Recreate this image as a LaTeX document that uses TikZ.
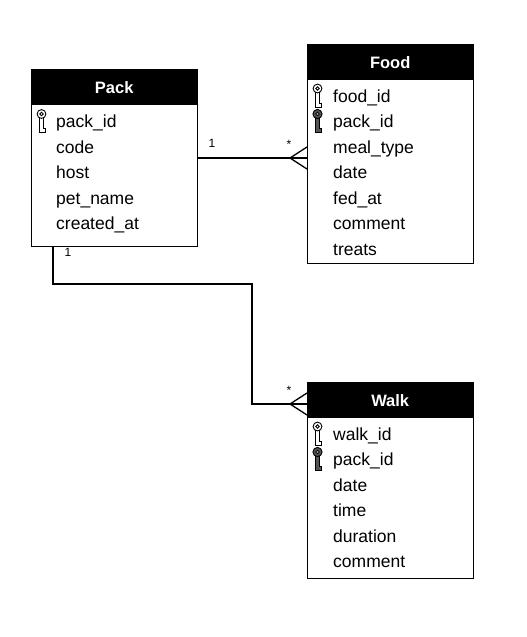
\documentclass[tikz,border=0pt]{standalone}
\usepackage{fontspec}
\setmainfont{Liberation Sans}
\usetikzlibrary{calc}
\newcommand\rowfnt{\fontsize{17.5}{20}\selectfont}
\newcommand\hdrfnt{\fontsize{16.5}{20}\selectfont\bfseries}
\newcommand\lblfnt{\fontsize{12}{14}\selectfont}
\definecolor{fkgray}{HTML}{555555}
\definecolor{fkhole}{HTML}{AAAAAA}
\tikzset{
  tbl/.style={draw=black, line width=1.3pt, fill=white, minimum width=166pt, anchor=north west, inner sep=0pt},
  hdr/.style={fill=black, text=white, font=\hdrfnt, minimum width=166pt, minimum height=36pt, anchor=north west, inner sep=0pt},
  row/.style={anchor=west, font=\rowfnt, inner sep=0pt, text height=12.5pt, text depth=3.5pt},
  lbl/.style={font=\lblfnt, inner sep=0pt},
  conn/.style={draw=black, line width=1.3pt},
  pkey/.pic={
    \draw[line width=0.9pt, fill=white] (-1.8,3.9) -- (-1.8,18.5) -- (4.3,18.5) -- (4.3,14.8) -- (1.8,14.8) -- (1.8,3.9);
    \draw[line width=0.9pt, fill=white] (0,0) circle (4.4);
    \draw[line width=0.9pt] (0,0) circle (1.8);
  },
  fkey/.pic={
    \draw[line width=0.9pt, fill=fkgray] (-2,3.9) -- (-2,18.5) -- (4.3,18.5) -- (4.3,14.8) -- (2,14.8) -- (2,3.9);
    \draw[line width=0.9pt, fill=fkgray] (0,0) circle (4.6);
    \draw[line width=0.6pt, fill=fkhole] (0,0) circle (1.9);
  }
}
\begin{document}
\begin{tikzpicture}[x=1pt,y=-1pt]
\useasboundingbox (0,0) rectangle (527,637);

% Pack
\node[tbl, minimum height=177pt] (pack) at (31,69) {};
\node[hdr] (packh) at (31,69) {Pack};
\pic at (41.5,114) {pkey};
\node[row] (pack1) at (56,123) {pack\_id};
\node[row] (pack2) at (56,148.5) {code};
\node[row] (pack3) at (56,174) {host};
\node[row] (pack4) at (56,199.5) {pet\_name};
\node[row] (pack5) at (56,225) {created\_at};

% Food
\node[tbl, minimum height=219pt] (food) at (307,44) {};
\node[hdr] (foodh) at (307,44) {Food};
\pic at (317.5,88.5) {pkey};
\pic at (317.5,114) {fkey};
\node[row] (food1) at (333,97.5) {food\_id};
\node[row] (food2) at (333,123) {pack\_id};
\node[row] (food3) at (333,148.5) {meal\_type};
\node[row] (food4) at (333,174) {date};
\node[row] (food5) at (333,199.5) {fed\_at};
\node[row] (food6) at (333,225) {comment};
\node[row] (food7) at (333,250.5) {treats};

% Walk
\node[tbl, minimum height=196pt] (walk) at (307,382) {};
\node[hdr] (walkh) at (307,382) {Walk};
\pic at (317.5,426.5) {pkey};
\pic at (317.5,452) {fkey};
\node[row] (walk1) at (333,435.5) {walk\_id};
\node[row] (walk2) at (333,461) {pack\_id};
\node[row] (walk3) at (333,486.5) {date};
\node[row] (walk4) at (333,512) {time};
\node[row] (walk5) at (333,537.5) {duration};
\node[row] (walk6) at (333,563) {comment};

% Pack -- Food
\coordinate (ya) at (0,158);
\draw[conn] (pack.east |- ya) -- (food.west |- ya);
\draw[conn] ($(food.west |- ya)+(-17,0)$) -- ($(food.west |- ya)+(0,-11)$);
\draw[conn] ($(food.west |- ya)+(-17,0)$) -- ($(food.west |- ya)+(0,11)$);
\node[lbl] (la1) at (212,143) {1};
\node[lbl] (la2) at (289,144) {*};

% Pack -- Walk
\coordinate (xb) at (53,0);
\coordinate (bend) at (252,284);
\coordinate (yb) at (0,404);
\draw[conn] (pack.south -| xb) |- (bend) |- (walk.west |- yb);
\draw[conn] ($(walk.west |- yb)+(-17,0)$) -- ($(walk.west |- yb)+(0,-11)$);
\draw[conn] ($(walk.west |- yb)+(-17,0)$) -- ($(walk.west |- yb)+(0,11)$);
\node[lbl] (lb1) at (68,252) {1};
\node[lbl] (lb2) at (289,390) {*};
\end{tikzpicture}
\end{document}
